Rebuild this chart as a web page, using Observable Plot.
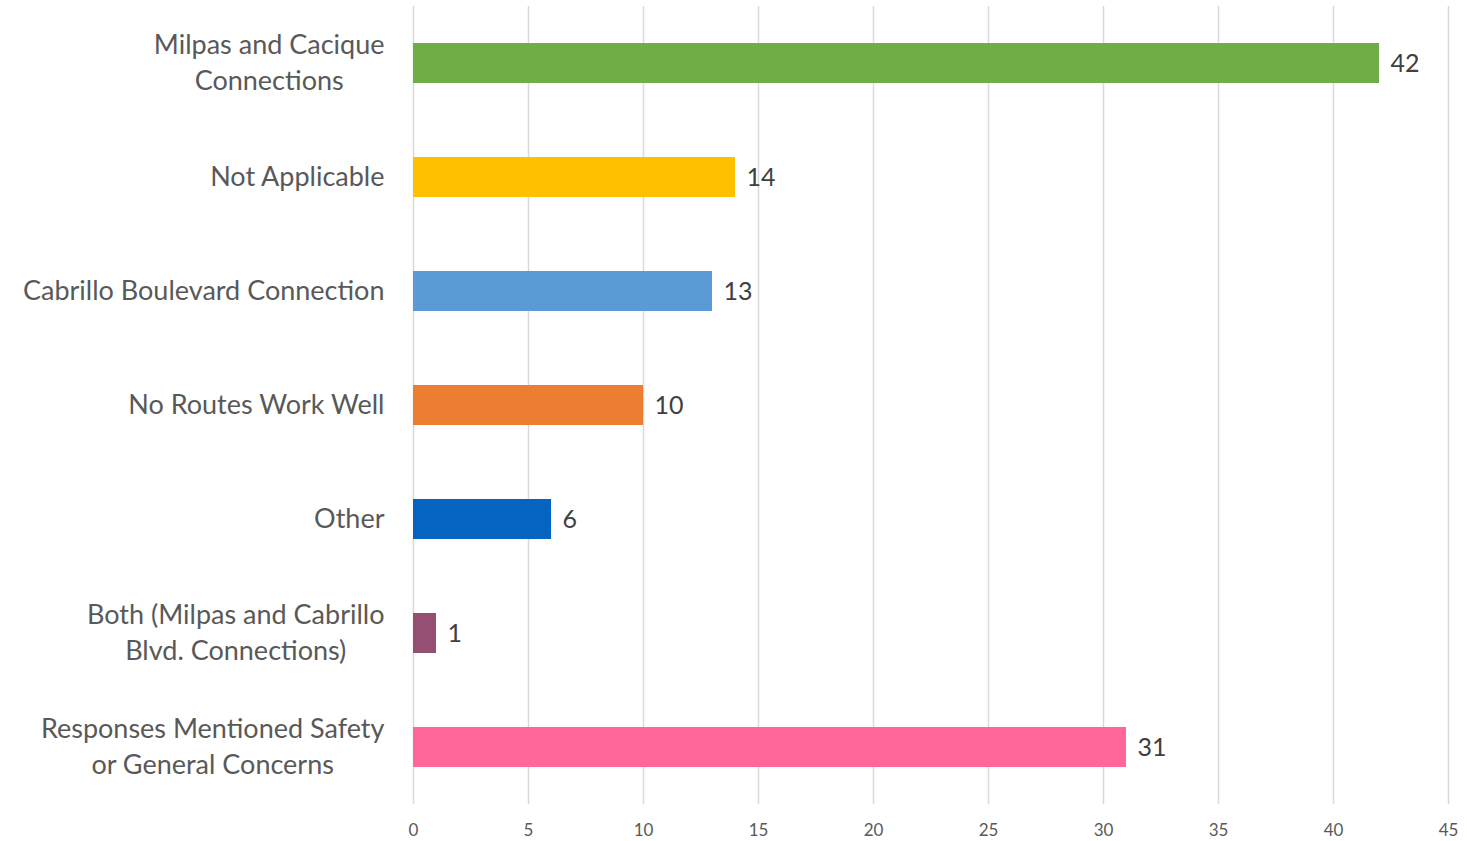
<!DOCTYPE html>
<html><head><meta charset="utf-8">
<script src="https://cdn.jsdelivr.net/npm/d3@7"></script>
<script src="https://cdn.jsdelivr.net/npm/@observablehq/plot@0.6"></script>
<style>body{margin:0;background:#fff}</style></head>
<body><div id="chart"></div>
<script>
const categories = [
  "Milpas and Cacique Connections",
  "Not Applicable",
  "Cabrillo Boulevard Connection",
  "No Routes Work Well",
  "Other",
  "Both (Milpas and Cabrillo Blvd. Connections)",
  "Responses Mentioned Safety or General Concerns"
];
const categoryLabels = [
  "Milpas and Cacique\nConnections",
  "Not Applicable",
  "Cabrillo Boulevard Connection",
  "No Routes Work Well",
  "Other",
  "Both (Milpas and Cabrillo\nBlvd. Connections)",
  "Responses Mentioned Safety\nor General Concerns"
];
const values = [42, 14, 13, 10, 6, 1, 31];
const colors = ["#70AD47", "#FFC000", "#5B9BD5", "#ED7D31", "#0563C1", "#954F72", "#FF6699"];
const xTicks = [0, 5, 10, 15, 20, 25, 30, 35, 40, 45];

const data = categories.map((c, i) => ({category: c, value: values[i], color: colors[i]}));
const labelOf = new Map(categories.map((c, i) => [c, categoryLabels[i]]));

const chart = Plot.plot({
  width: 1467, height: 841,
  marginLeft: 413, marginRight: 19, marginTop: 6, marginBottom: 37,
  style: {fontFamily: "Lato, sans-serif", background: "#fff"},
  x: {domain: [0, 45], label: null},
  y: {domain: categories, paddingInner: 0.65, paddingOuter: 0.325, label: null},
  color: {type: "identity"},
  marks: [
    Plot.gridX(xTicks, {stroke: "#d9d9d9", strokeOpacity: 1, strokeWidth: 1.5}),
    Plot.barX(data, {x: "value", y: "category", fill: "color"}),
    Plot.text(data, {x: "value", y: "category", text: d => String(d.value), textAnchor: "start", dx: 11, fontSize: 25, fill: "#404040"}),
    Plot.axisX({ticks: xTicks, tickSize: 0, tickPadding: 19, fontSize: 17, color: "#595959", label: null}),
    Plot.axisY({tickSize: 0, tickPadding: 29, dy: -3, fontSize: 27, color: "#595959", lineHeight: 1.333, tickFormat: c => labelOf.get(c), label: null})
  ]
});
document.getElementById("chart").appendChild(chart);

// center-align the lines of multi-line category labels, keeping the right edge
d3.select(chart).selectAll("g[aria-label='y-axis tick label'] text").each(function() {
  const t = this;
  if (t.querySelectorAll("tspan").length > 1) {
    const w = t.getBBox().width;
    t.setAttribute("text-anchor", "middle");
    const tr = t.getAttribute("transform") || "";
    t.setAttribute("transform", tr + ` translate(${-w / 2},0)`);
  }
});
</script>
</body></html>
